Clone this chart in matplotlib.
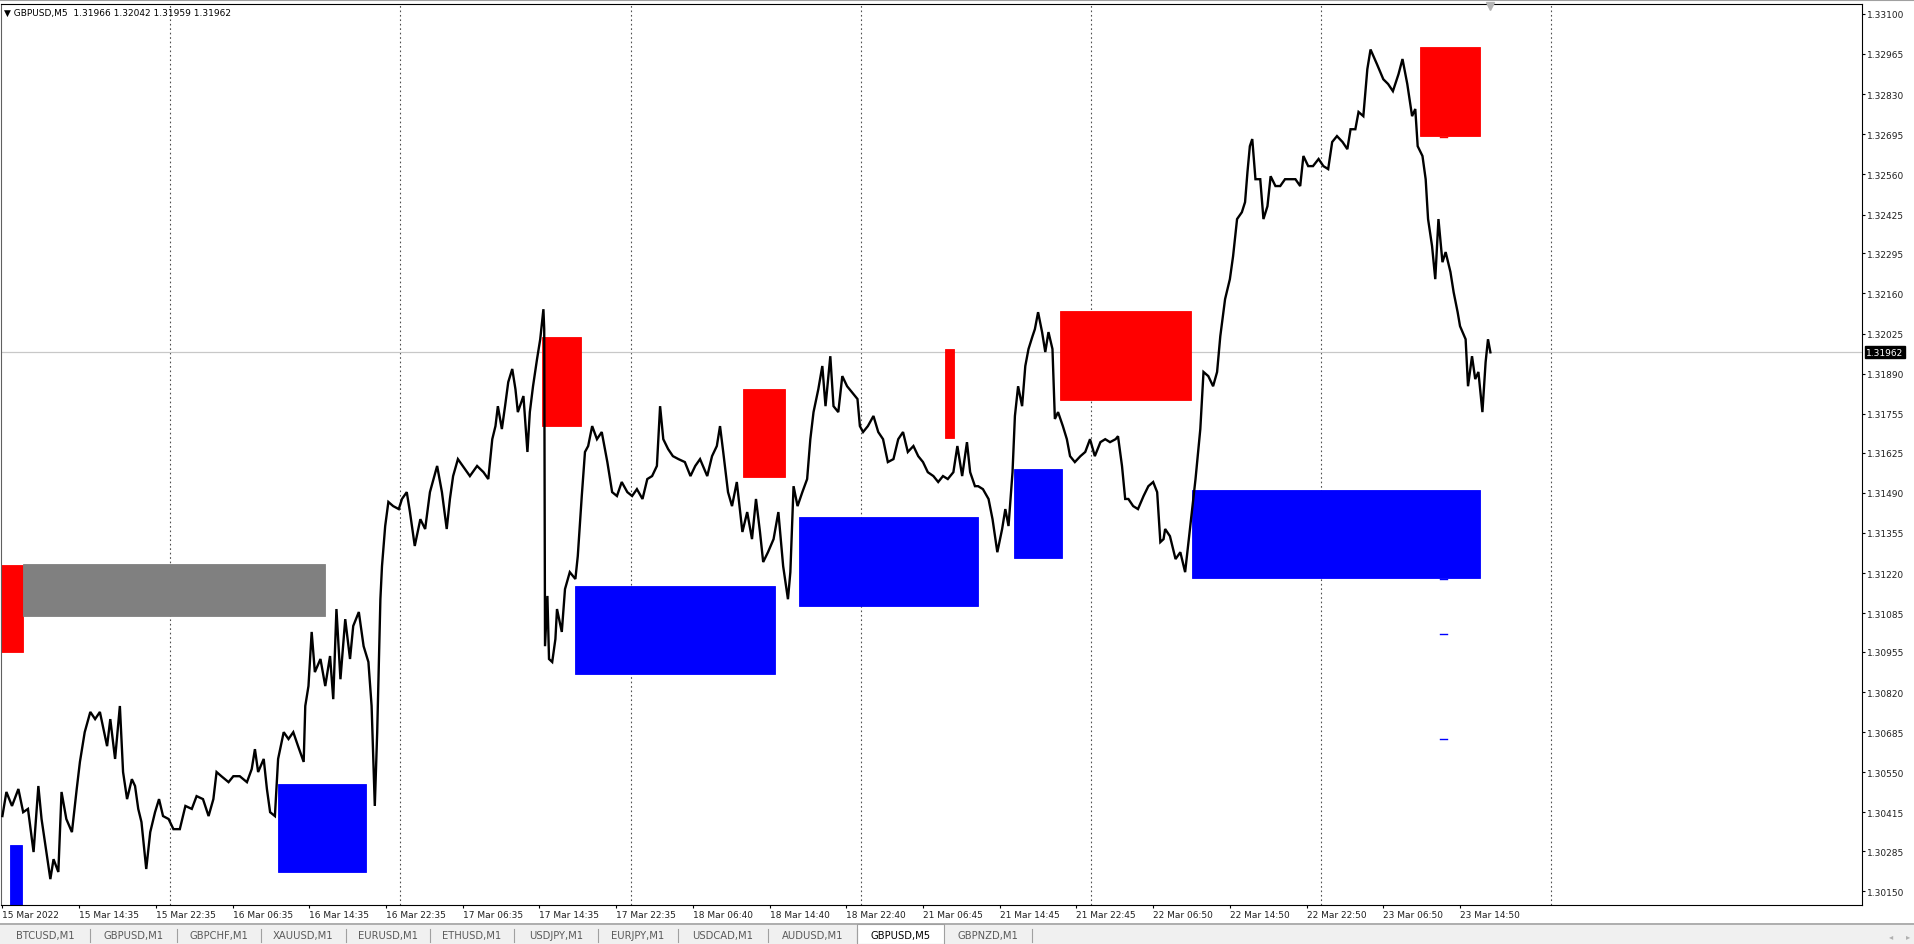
"""
GBPUSD M5 图表复刻（MT4 风格）
"""

import matplotlib
matplotlib.use('Agg')  # 非交互式后端
import matplotlib.pyplot as plt
from matplotlib.patches import Rectangle
from matplotlib.lines import Line2D

plt.rcParams['font.family'] = ['DejaVu Sans']

# ---------------- 数据 ----------------
# 价格走势（M5 柱序号, 收盘价）
bar_idx = [
    0, 5, 12, 20, 26, 32, 39, 45, 49, 55, 60, 64, 70, 74, 80, 87, 93, 97, 103, 110,
    116, 122, 131, 135, 141, 147, 151, 156, 162, 166, 170, 174, 180, 185, 191, 196, 201, 208, 214, 222,
    229, 237, 243, 251, 258, 264, 268, 274, 283, 289, 297, 306, 312, 316, 320, 327, 331, 335, 341, 345,
    352, 358, 364, 370, 377, 379, 383, 387, 391, 398, 404, 410, 414, 418, 423, 429, 435, 439, 446, 452,
    458, 462, 466, 469, 473, 475, 479, 483, 489, 496,
    500, 506, 510, 516, 523, 529, 535, 544, 550, 556, 560, 564, 570, 579, 585, 594, 602, 608, 613, 617,
    620, 625, 629, 633, 638, 642, 645, 652, 657, 660, 664, 669, 673, 677, 678, 679, 682, 684, 688, 692,
    694, 700, 704, 710, 717, 720, 725, 729, 733, 738, 744, 750, 757, 763, 769, 775, 782, 788, 794, 801,
    807, 813, 819, 823, 827, 833, 839, 846, 854, 861, 867, 873, 882, 888, 894, 898, 902, 908, 913, 919,
    926, 932, 938, 943, 948, 952, 958, 965, 971, 977, 983,
    986, 990, 995, 1001, 1007, 1011, 1015, 1021, 1026, 1030, 1036, 1040, 1046, 1051, 1057, 1063, 1070, 1073, 1077, 1083,
    1090, 1096, 1102, 1108, 1115, 1121, 1127, 1133, 1140, 1146, 1152, 1158, 1165, 1171, 1177, 1183, 1190, 1195, 1201, 1207,
    1211, 1217, 1221, 1227, 1234, 1239, 1245, 1251, 1255, 1259, 1264, 1267, 1271, 1276, 1280, 1284, 1289, 1292, 1296, 1301,
    1305, 1309, 1314, 1317, 1321, 1327, 1332, 1336, 1342, 1349, 1355, 1361, 1367, 1374, 1380, 1386, 1393, 1396, 1401, 1405,
    1409, 1415, 1421, 1428, 1434, 1440, 1445, 1449, 1453,
    1455, 1461, 1468, 1474, 1480, 1486, 1493, 1499, 1503, 1509, 1515, 1520, 1524, 1530, 1536, 1540, 1545, 1551, 1555, 1558,
    1561, 1564, 1568, 1574, 1578, 1583, 1587, 1593, 1599, 1605, 1612, 1618, 1624, 1628, 1634, 1640, 1647, 1653, 1659, 1664,
    1670, 1677, 1683, 1687, 1693, 1697, 1703, 1708, 1712, 1720, 1728, 1734, 1740, 1747, 1752, 1758, 1764, 1768, 1771, 1777,
    1781, 1784, 1789, 1793, 1797, 1802, 1806, 1812, 1816, 1821, 1824, 1831, 1834, 1839, 1843, 1847, 1852, 1856, 1859, 1862,
]
close_price = [
    1.30403, 1.30484, 1.30437, 1.30494, 1.30416, 1.30427, 1.30282, 1.30504, 1.30393, 1.30282,
    1.30191, 1.30258, 1.30215, 1.30484, 1.30393, 1.30349, 1.30494, 1.30585, 1.30685, 1.30753,
    1.30729, 1.30753, 1.30638, 1.30729, 1.30595, 1.30773, 1.30551, 1.30460, 1.30527, 1.30504,
    1.30427, 1.30383, 1.30225, 1.30349, 1.30416, 1.30460, 1.30403, 1.30393, 1.30359, 1.30359,
    1.30437, 1.30427, 1.30470, 1.30460, 1.30403, 1.30460, 1.30551, 1.30537, 1.30517, 1.30537,
    1.30537, 1.30517, 1.30561, 1.30628, 1.30551, 1.30595, 1.30494, 1.30416, 1.30403, 1.30595,
    1.30685, 1.30662, 1.30685, 1.30638, 1.30585, 1.30773, 1.30840, 1.31022, 1.30887, 1.30931,
    1.30840, 1.30941, 1.30796, 1.31099, 1.30863, 1.31065, 1.30931, 1.31042, 1.31089, 1.30974,
    1.30921, 1.30773, 1.30437, 1.30685, 1.31132, 1.31243, 1.31378, 1.31459, 1.31445, 1.31435,
    1.31469, 1.31492, 1.31425, 1.31311, 1.31401, 1.31368, 1.31492, 1.31580, 1.31492, 1.31368,
    1.31469, 1.31546, 1.31603, 1.31569, 1.31546, 1.31580, 1.31559, 1.31536, 1.31670, 1.31714,
    1.31781, 1.31704, 1.31781, 1.31862, 1.31906, 1.31838, 1.31761, 1.31815, 1.31627, 1.31761,
    1.31848, 1.31939, 1.32006, 1.32107, 1.32040, 1.30974, 1.31143, 1.30931, 1.30921, 1.30998,
    1.31099, 1.31022, 1.31166, 1.31223, 1.31200, 1.31277, 1.31479, 1.31627, 1.31647, 1.31714,
    1.31670, 1.31694, 1.31593, 1.31492, 1.31479, 1.31526, 1.31492, 1.31479, 1.31502, 1.31469,
    1.31536, 1.31546, 1.31580, 1.31781, 1.31670, 1.31637, 1.31613, 1.31603, 1.31593, 1.31546,
    1.31580, 1.31603, 1.31546, 1.31613, 1.31647, 1.31714, 1.31627, 1.31492, 1.31445, 1.31526,
    1.31358, 1.31425, 1.31334, 1.31469, 1.31358, 1.31257, 1.31290, 1.31334, 1.31425, 1.31243,
    1.31132,
    1.31223, 1.31512, 1.31445, 1.31492, 1.31536, 1.31670, 1.31761, 1.31838, 1.31916, 1.31781,
    1.31949, 1.31781, 1.31761, 1.31882, 1.31848, 1.31828, 1.31805, 1.31714, 1.31694, 1.31714,
    1.31748, 1.31694, 1.31670, 1.31593, 1.31603, 1.31670, 1.31694, 1.31627, 1.31647, 1.31613,
    1.31593, 1.31559, 1.31546, 1.31526, 1.31546, 1.31536, 1.31559, 1.31647, 1.31546, 1.31660,
    1.31559, 1.31512, 1.31512, 1.31502, 1.31469, 1.31401, 1.31290, 1.31368, 1.31435, 1.31378,
    1.31559, 1.31748, 1.31848, 1.31781, 1.31916, 1.31973, 1.32016, 1.32040, 1.32097, 1.32030,
    1.31963, 1.32030, 1.31973, 1.31738, 1.31761, 1.31714, 1.31670, 1.31613, 1.31593, 1.31613,
    1.31627, 1.31670, 1.31613, 1.31660, 1.31670, 1.31660, 1.31670, 1.31680, 1.31580, 1.31469,
    1.31469, 1.31445, 1.31435, 1.31479, 1.31512, 1.31526, 1.31492, 1.31324, 1.31334,
    1.31368, 1.31344, 1.31267, 1.31290, 1.31223, 1.31368, 1.31536, 1.31704, 1.31896, 1.31882,
    1.31848, 1.31896, 1.32016, 1.32141, 1.32208, 1.32285, 1.32410, 1.32433, 1.32467, 1.32568,
    1.32655, 1.32679, 1.32544, 1.32544, 1.32410, 1.32453, 1.32554, 1.32521, 1.32521, 1.32544,
    1.32544, 1.32544, 1.32521, 1.32622, 1.32588, 1.32588, 1.32612, 1.32588, 1.32578, 1.32669,
    1.32689, 1.32669, 1.32645, 1.32712, 1.32712, 1.32770, 1.32756, 1.32914, 1.32980, 1.32931,
    1.32880, 1.32864, 1.32840, 1.32897, 1.32948, 1.32864, 1.32756, 1.32780, 1.32655, 1.32622,
    1.32544, 1.32410, 1.32319, 1.32208, 1.32410, 1.32265, 1.32299, 1.32232, 1.32164, 1.32097,
    1.32050, 1.32006, 1.31848, 1.31949, 1.31872, 1.31896, 1.31761, 1.31929, 1.32006, 1.31962,
]

# 供需区（起始柱, 结束柱, 上沿, 下沿, 类型）
zone_start = [-3, 26, 9, 345, 675, 717, 927, 997, 1180, 1266, 1324, 1488, 1774]
zone_end = [26, 404, 25, 455, 724, 967, 979, 1221, 1191, 1326, 1487, 1849, 1849]
zone_high = [1.31248, 1.31250, 1.30306, 1.30510, 1.32014, 1.31177, 1.31839,
             1.31407, 1.31973, 1.31570, 1.32102, 1.31500, 1.32989]
zone_low = [1.30953, 1.31075, 1.30000, 1.30214, 1.31713, 1.30880, 1.31542,
            1.31110, 1.31674, 1.31270, 1.31802, 1.31203, 1.32690]
zone_kind = ['supply', 'flip', 'demand', 'demand', 'supply', 'demand', 'supply',
             'demand', 'supply', 'demand', 'supply', 'demand', 'supply']

# 小短线标记
mark_price = [1.32686, 1.31199, 1.31015, 1.30662]
mark_kind = ['supply', 'demand', 'demand', 'demand']
mark_start, mark_end = 1799, 1808

current_price = 1.31962
header = "\u25BC GBPUSD,M5  1.31966 1.32042 1.31959 1.31962"

price_ticks = [1.33100, 1.32965, 1.32830, 1.32695, 1.32560, 1.32425, 1.32295, 1.32160,
               1.32025, 1.31890, 1.31755, 1.31625, 1.31490, 1.31355, 1.31220, 1.31085,
               1.30955, 1.30820, 1.30685, 1.30550, 1.30415, 1.30285, 1.30150]
time_labels = ["15 Mar 2022", "15 Mar 14:35", "15 Mar 22:35", "16 Mar 06:35", "16 Mar 14:35",
               "16 Mar 22:35", "17 Mar 06:35", "17 Mar 14:35", "17 Mar 22:35", "18 Mar 06:40",
               "18 Mar 14:40", "18 Mar 22:40", "21 Mar 06:45", "21 Mar 14:45", "21 Mar 22:45",
               "22 Mar 06:50", "22 Mar 14:50", "22 Mar 22:50", "23 Mar 06:50", "23 Mar 14:50"]
tab_names = ["BTCUSD,M1", "GBPUSD,M1", "GBPCHF,M1", "XAUUSD,M1", "EURUSD,M1", "ETHUSD,M1",
             "USDJPY,M1", "EURJPY,M1", "USDCAD,M1", "AUDUSD,M1", "GBPUSD,M5", "GBPNZD,M1"]
active_tab = "GBPUSD,M5"

# ---------------- 样式 ----------------
W, H = 1915, 945
zone_colors = {'supply': '#FF0000', 'demand': '#0000FF', 'flip': '#808080'}
font_size = 6.5
tab_edges = [0, 90, 177, 261, 346, 430, 514, 598, 678, 768, 857, 944, 1032]


def fx(x):
    return x / W


def fy(y):
    return 1 - y / H


fig = plt.figure(figsize=(W / 100, H / 100), dpi=100)
fig.patch.set_facecolor('white')

# 主图区域
ax = fig.add_axes([fx(1), fy(906), (1862 - 1) / W, (906 - 5) / H])
ax.set_xlim(-1.75, 2327)
ax.set_ylim(1.30104, 1.33133)
ax.set_facecolor('white')

# 竖向点状网格
for k in range(7):
    ax.axvline(210 + 288 * k, color='#505050', lw=0.8, ls=(0, (1.5, 2.5)), zorder=0.5)

# 当前价格线
ax.axhline(current_price, color='#c8c8c8', lw=0.9, zorder=0.6)

# 供需矩形
for s, e, hi, lo, kind in zip(zone_start, zone_end, zone_high, zone_low, zone_kind):
    c = zone_colors[kind]
    ax.add_patch(Rectangle((s, lo), e - s, hi - lo, facecolor=c, edgecolor=c,
                           lw=0.6, zorder=1))

for p, kind in zip(mark_price, mark_kind):
    ax.plot([mark_start, mark_end], [p, p], color=zone_colors[kind], lw=1.0, zorder=1.2)

# 价格线
ax.plot(bar_idx, close_price, color='black', lw=1.7, zorder=3, solid_joinstyle='miter')

# 顶部小三角（图表平移标记）
ax.plot([bar_idx[-1]], [1.33125], marker='v', ms=6, color='#b4b4b4', mec='#b4b4b4',
        clip_on=False, zorder=4)

# 坐标轴
for sp in ax.spines.values():
    sp.set_color('black')
    sp.set_linewidth(0.8)
ax.spines['left'].set_color('#606060')

ax.yaxis.tick_right()
ax.set_yticks(price_ticks)
ax.set_yticklabels([f'{t:.5f}' for t in price_ticks])
ax.set_xticks([96 * i for i in range(len(time_labels))])
ax.set_xticklabels(time_labels, ha='left')
ax.tick_params(axis='y', direction='out', length=2.3, width=0.8, pad=1.5,
               labelsize=font_size, colors='black', labelcolor='#202020')
ax.tick_params(axis='x', direction='out', length=2.3, width=0.8, pad=1.2,
               labelsize=font_size, colors='black', labelcolor='#202020')

# 当前价格标签
ax.annotate(f'{current_price:.5f}', xy=(1, current_price), xycoords=('axes fraction', 'data'),
            xytext=(3.2, 0), textcoords='offset points', ha='left', va='center',
            color='white', fontsize=font_size,
            bbox=dict(boxstyle='square,pad=0.18', fc='black', ec='black'), zorder=5)

# 左上角标题
fig.text(fx(4), fy(13), header, fontsize=font_size, color='black', ha='left', va='center')

# 顶部窗口边线
fig.add_artist(Line2D([0, 1], [fy(0.5), fy(0.5)], color='#a0a0a0', lw=1.5))

# 底部标签栏
fig.add_artist(Line2D([0, 1], [fy(925), fy(925)], color='#a0a0a0', lw=1.2))
fig.add_artist(Rectangle((0, 0), 1, fy(926), transform=fig.transFigure,
                         facecolor='#f0f0f0', edgecolor='none', zorder=0))
for i, name in enumerate(tab_names):
    x0, x1 = tab_edges[i], tab_edges[i + 1]
    if name == active_tab:
        fig.add_artist(Rectangle((fx(x0), 0), fx(x1) - fx(x0), fy(925), transform=fig.transFigure,
                                 facecolor='white', edgecolor='#a0a0a0', lw=0.8, zorder=1))
        color = 'black'
    else:
        color = '#5a5a5a'
        fig.add_artist(Line2D([fx(x1), fx(x1)], [fy(943), fy(930)], color='#a0a0a0', lw=0.8))
    fig.text(fx((x0 + x1) / 2), fy(936.5), name, fontsize=7.2, color=color,
             ha='center', va='center', zorder=2)

# 右下角滚动箭头
fig.text(fx(1891), fy(936.5), '\u25C2', fontsize=6, color='#b0b0b0', ha='center', va='center')
fig.text(fx(1908), fy(936.5), '\u25B8', fontsize=6, color='#b0b0b0', ha='center', va='center')

fig.savefig('out.png', dpi=100)
